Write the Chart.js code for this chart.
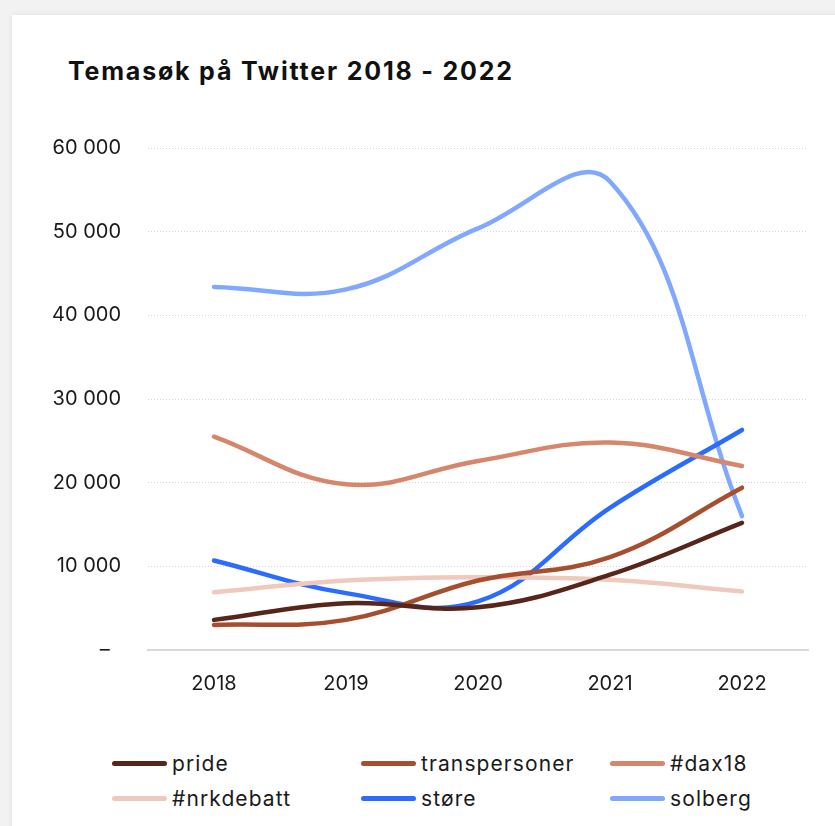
<!DOCTYPE html>
<html lang="no">
<head>
    <meta charset="UTF-8">
    <title>Temasøk på Twitter 2018 - 2022</title>
    <script src="https://cdn.jsdelivr.net/npm/chart.js"></script>
    <style>
        html, body { margin: 0; padding: 0; }
        body {
            width: 835px; height: 826px; overflow: hidden;
            background: #f2f2f2;
            font-family: Inter, "DejaVu Sans", sans-serif;
            position: relative;
        }
        .card {
            position: absolute; left: 12px; top: 15px; width: 840px; height: 830px;
            background: #fff;
            box-shadow: 0 0 6px rgba(0,0,0,0.08);
        }
        h1 {
            position: absolute; left: 68px; top: 56px; margin: 0;
            font-size: 25px; font-weight: 700; color: #111;
            letter-spacing: 1.8px;
        }
        #chartBox {
            position: absolute; left: 12px; top: 109px; width: 823px; height: 601px;
        }
        #legend {
            position: absolute; left: 112px; top: 750px;
            display: grid; grid-template-columns: 249px 249px 200px;
            row-gap: 9px;
        }
        .item { display: flex; align-items: center; height: 26px; }
        .swatch { width: 55px; height: 5px; border-radius: 3px; margin-right: 5px; }
        .item span { font-size: 21px; color: #1a1a1a; letter-spacing: 1.1px; }
    </style>
</head>
<body>
    <div class="card"></div>
    <h1>Temasøk på Twitter 2018 - 2022</h1>
    <div id="chartBox"><canvas id="mainChart"></canvas></div>
    <div id="legend"></div>

    <script>
        const years = ['2018', '2019', '2020', '2021', '2022'];
        const seriesNames = ['pride', 'transpersoner', '#dax18', '#nrkdebatt', 'støre', 'solberg'];
        const pride = [3600, 5600, 5100, 9000, 15200];
        const transpersoner = [3000, 3600, 8300, 11100, 19400];
        const dax18 = [25500, 19800, 22600, 24800, 22000];
        const nrkdebatt = [6900, 8300, 8700, 8400, 7000];
        const store = [10700, 6800, 5800, 17000, 26300];
        const solberg = [43400, 43100, 50400, 56000, 16000];
        const yTicks = [0, 10000, 20000, 30000, 40000, 50000, 60000];
        const colors = ['#57251a', '#a64f2f', '#d6866a', '#efc9bb', '#2b6bff', '#80a8ff'];

        const allValues = [pride, transpersoner, dax18, nrkdebatt, store, solberg];

        function fmt(v) {
            if (v === 0) return '–  ';
            return String(v).replace(/\B(?=(\d{3})+(?!\d))/g, ' ');
        }

        const datasets = seriesNames.map((name, i) => ({
            label: name,
            data: allValues[i],
            borderColor: colors[i],
            backgroundColor: colors[i],
            borderWidth: 4.5,
            borderCapStyle: 'round',
            borderJoinStyle: 'round',
            pointRadius: 0,
            tension: 0.4,
            fill: false
        }));

        const ctx = document.getElementById('mainChart').getContext('2d');
        const chart = new Chart(ctx, {
            type: 'line',
            data: { labels: years, datasets: datasets },
            options: {
                responsive: true,
                maintainAspectRatio: false,
                animation: false,
                layout: { padding: { top: 22, right: 27, left: 0, bottom: 0 } },
                plugins: {
                    legend: { display: false },
                    tooltip: { enabled: false }
                },
                scales: {
                    x: {
                        offset: true,
                        grid: { display: false, drawTicks: false },
                        border: { display: true, color: '#d9d9d9', width: 2 },
                        ticks: {
                            padding: 22,
                            color: '#1a1a1a',
                            font: { family: 'Inter', size: 20 }
                        },
                        afterFit: function (scale) { scale.height = 60; }
                    },
                    y: {
                        min: 0,
                        max: 60000,
                        afterBuildTicks: function (scale) {
                            scale.ticks = yTicks.map(v => ({ value: v }));
                        },
                        grid: { color: '#d6d6d6', lineWidth: 1, drawTicks: false },
                        border: { display: false, dash: [1, 2] },
                        ticks: {
                            padding: 27,
                            color: '#1a1a1a',
                            font: { family: 'Inter', size: 20 },
                            callback: function (v) { return fmt(v); }
                        },
                        afterFit: function (scale) { scale.width = 136; }
                    }
                }
            }
        });

        // legend in three columns
        const legend = document.getElementById('legend');
        seriesNames.forEach((name, i) => {
            const item = document.createElement('div');
            item.className = 'item';
            const sw = document.createElement('div');
            sw.className = 'swatch';
            sw.style.background = colors[i];
            const label = document.createElement('span');
            label.textContent = name;
            item.appendChild(sw);
            item.appendChild(label);
            legend.appendChild(item);
        });
    </script>
</body>
</html>
